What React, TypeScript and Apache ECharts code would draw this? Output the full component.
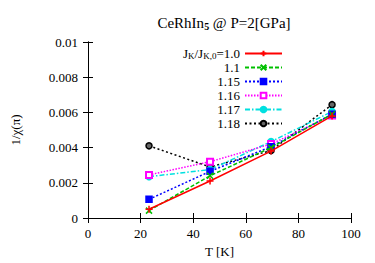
import React, { useEffect, useRef } from 'react';
import * as echarts from 'echarts';

const temps = [23.2, 46.4, 69.6, 92.8];
const seriesNames = ['JK/JK,0=1.0', '1.1', '1.15', '1.16', '1.17', '1.18'];
const v10 = [0.0005, 0.0021, 0.0038, 0.0058];
const v11 = [0.00042, 0.0024, 0.004, 0.0059];
const v115 = [0.00106, 0.00265, 0.00405, 0.0059];
const v116 = [0.00245, 0.0032, 0.0042, 0.00583];
const v117 = [0.00235, 0.00275, 0.00434, 0.00605];
const v118 = [0.0041, 0.0029, 0.00383, 0.00644];
const allValues = [v10, v11, v115, v116, v117, v118];
const xTicks = [0, 20, 40, 60, 80, 100];
const yTicks = [0, 0.002, 0.004, 0.006, 0.008, 0.01];

const FONT = 'Liberation Serif';
const colors = ['#ff0000', '#00c000', '#0000ff', '#ff00ff', '#00e0e0', '#000000'];
const dashes: any[] = ['solid', [4, 2], [2, 2], [1.5, 1.5], [5, 2, 1.5, 2], [2, 2.5]];
const symbols = [
  'path://M0,5L10,5M5,0L5,10',
  'path://M0,0L10,10M10,0L0,10',
  'rect',
  'emptyRect',
  'circle',
  'circle',
];
const symSizes = [7, 6, 6, 6, 6, 6];

export default function App() {
  const ref = useRef<HTMLDivElement>(null);
  useEffect(() => {
    const chart = echarts.init(ref.current!, undefined, { renderer: 'svg' });
    const series = seriesNames.map((name, i) => ({
      name,
      type: 'line',
      data: temps.map((t, j) => [t, allValues[i][j]]),
      symbol: symbols[i],
      symbolSize: symSizes[i],
      showAllSymbol: true,
      lineStyle: { color: colors[i], width: 1.5, type: dashes[i] },
      itemStyle: {
        color: i === 5 ? '#666' : colors[i],
        borderColor: colors[i],
        borderWidth: 1.5,
      },
      z: 10 - i,
    }));
    chart.setOption({
      animation: false,
      textStyle: { fontFamily: FONT },
      title: {
        text: '{a|CeRhIn}{s|5}{a| @ P=2[GPa]}',
        left: 219,
        textAlign: 'center',
        top: 10,
        textStyle: {
          rich: {
            a: { fontFamily: FONT, fontSize: 15, color: '#000', fontWeight: 'normal' },
            s: { fontFamily: FONT, fontSize: 10, color: '#000', verticalAlign: 'bottom', padding: [6, 0, 0, 0] },
          },
        },
      },
      legend: {
        orient: 'vertical',
        right: 92,
        top: 44,
        align: 'right',
        itemWidth: 37,
        itemHeight: 7,
        itemGap: 1,
        padding: 0,
        data: seriesNames,
        formatter: (n: string) =>
          n === seriesNames[0] ? '{a|J}{s|K}{a|/J}{s|K,0}{a|=1.0}' : '{b|' + n + '}',
        textStyle: {
          rich: {
            a: { fontFamily: FONT, fontSize: 13, color: '#000', lineHeight: 13, verticalAlign: 'top' },
            b: { fontFamily: FONT, fontSize: 13, color: '#000', lineHeight: 12 },
            s: { fontFamily: FONT, fontSize: 9, color: '#000', verticalAlign: 'bottom', lineHeight: 9, padding: [7, 0, 0, 0] },
          },
        },
      },
      grid: { left: 88, right: 24, top: 42, bottom: 42 },
      xAxis: [
        {
          type: 'value',
          min: 0,
          max: 100,
          interval: 20,
          name: 'T [K]',
          nameLocation: 'middle',
          nameGap: 27,
          nameTextStyle: { fontFamily: FONT, fontSize: 13, color: '#000' },
          axisLine: { lineStyle: { color: '#000', width: 1 } },
          axisTick: { inside: true, length: 5, lineStyle: { color: '#000' } },
          axisLabel: {
            fontFamily: FONT,
            fontSize: 13,
            color: '#000',
            margin: 9,
            formatter: (v: number) => (xTicks.includes(v) ? String(v) : ''),
          },
          splitLine: { show: false },
        },
        {
          type: 'value',
          position: 'top',
          min: 0,
          max: 100,
          interval: 20,
          axisLine: { lineStyle: { color: '#000', width: 1 } },
          axisTick: { inside: true, length: 5, lineStyle: { color: '#000' } },
          axisLabel: { show: false },
          splitLine: { show: false },
        },
      ],
      yAxis: [
        {
          type: 'value',
          min: 0,
          max: 0.01,
          interval: 0.002,
          name: '1/χ(π)',
          nameLocation: 'middle',
          nameGap: 66,
          nameTextStyle: { fontFamily: FONT, fontSize: 13, color: '#000' },
          axisLine: { show: true, lineStyle: { color: '#000', width: 1 } },
          axisTick: { show: true, inside: true, length: 5, lineStyle: { color: '#000' } },
          axisLabel: {
            fontFamily: FONT,
            fontSize: 13,
            color: '#000',
            margin: 10,
            formatter: (v: number) => {
              const t = yTicks.find((y) => Math.abs(y - v) < 1e-9);
              if (t === undefined) return '';
              return t === 0 ? '0' : String(parseFloat(t.toFixed(3)));
            },
          },
          splitLine: { show: false },
        },
        {
          type: 'value',
          position: 'right',
          min: 0,
          max: 0.01,
          interval: 0.002,
          axisLine: { show: true, lineStyle: { color: '#000', width: 1 } },
          axisTick: { show: true, inside: true, length: 5, lineStyle: { color: '#000' } },
          axisLabel: { show: false },
          splitLine: { show: false },
        },
      ],
      series,
    });
    return () => chart.dispose();
  }, []);
  return <div ref={ref} style={{ width: 375, height: 263, position: 'absolute', left: 0, top: 0 }} />;
}
